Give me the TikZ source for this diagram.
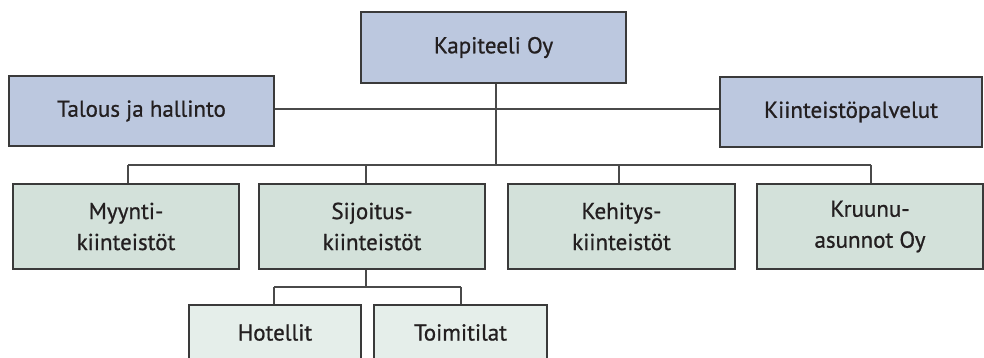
\documentclass[tikz,border=0pt]{standalone}
\usepackage{fontspec}
\setmainfont{PT Sans}
\newfontfamily\orgfont{PT Sans}[FakeBold=0.8]
\definecolor{headfill}{HTML}{BCC8DF}
\definecolor{unitfill}{HTML}{D3E1DA}
\definecolor{subfill}{HTML}{E5EEEA}
\definecolor{edge}{HTML}{3A3A3A}
\definecolor{wire}{HTML}{4A4A4A}
\definecolor{ink}{HTML}{231F20}
\tikzset{
  orgbox/.style={draw=edge, line width=1.3pt, inner sep=0pt, align=center,
    text=ink, font=\orgfont\fontsize{23}{31}\selectfont},
  headbox/.style={orgbox, fill=headfill},
  unitbox/.style={orgbox, fill=unitfill},
  subbox/.style={orgbox, fill=subfill},
  wireline/.style={draw=wire, line width=1.1pt}
}
\begin{document}
\begin{tikzpicture}[x=1pt,y=-1pt]
\useasboundingbox (0,0) rectangle (984,358);
\clip (0,0) rectangle (984,358);
\fill[white] (0,0) rectangle (984,358);

% coordinates of the connector lines
\coordinate (hub) at (496,109);
\coordinate (bus) at (496,165);
\coordinate (busL) at (128,165);
\coordinate (busR) at (871,165);
\coordinate (subbus) at (366,287);
\coordinate (subL) at (274,287);
\coordinate (subR) at (461,287);

% connectors (drawn first so the boxes cover their ends)
\draw[wireline] (496,83) -- (bus);
\draw[wireline] (274,109) -- (720,109);
\draw[wireline] (busL) -- (busR);
\draw[wireline] (busL) -- (128,184);
\draw[wireline] (366,165) -- (366,184);
\draw[wireline] (619,165) -- (619,184);
\draw[wireline] (busR) -- (871,184);
\draw[wireline] (366,269) -- (subbus);
\draw[wireline] (subL) -- (subR);
\draw[wireline] (subL) -- (274,305);
\draw[wireline] (subR) -- (461,305);

% top level
\node[headbox, minimum width=265pt, minimum height=71pt] (top) at (493.5,47.5) {Kapiteeli Oy};
\node[headbox, minimum width=265pt, minimum height=70pt] (fin) at (141.5,111) {Talous ja hallinto};
\node[headbox, minimum width=262pt, minimum height=70pt] (prop) at (851,112) {Kiinteistöpalvelut};

% business units
\node[unitbox, minimum width=226pt, minimum height=85pt] (sale) at (126,226.5) {Myynti-\\kiinteistöt};
\node[unitbox, minimum width=226pt, minimum height=85pt] (inv) at (372,226.5) {Sijoitus-\\kiinteistöt};
\node[unitbox, minimum width=227pt, minimum height=85pt] (dev) at (621.5,226.5) {Kehitys-\\kiinteistöt};
\node[unitbox, minimum width=226pt, minimum height=85pt] (crown) at (870,226.5) {Kruunu-\\asunnot Oy};

% investment property segments
\node[subbox, minimum width=172pt, minimum height=55pt] (hotel) at (275,332.5) {Hotellit};
\node[subbox, minimum width=173pt, minimum height=55pt] (office) at (460.5,332.5) {Toimitilat};
\end{tikzpicture}
\end{document}
